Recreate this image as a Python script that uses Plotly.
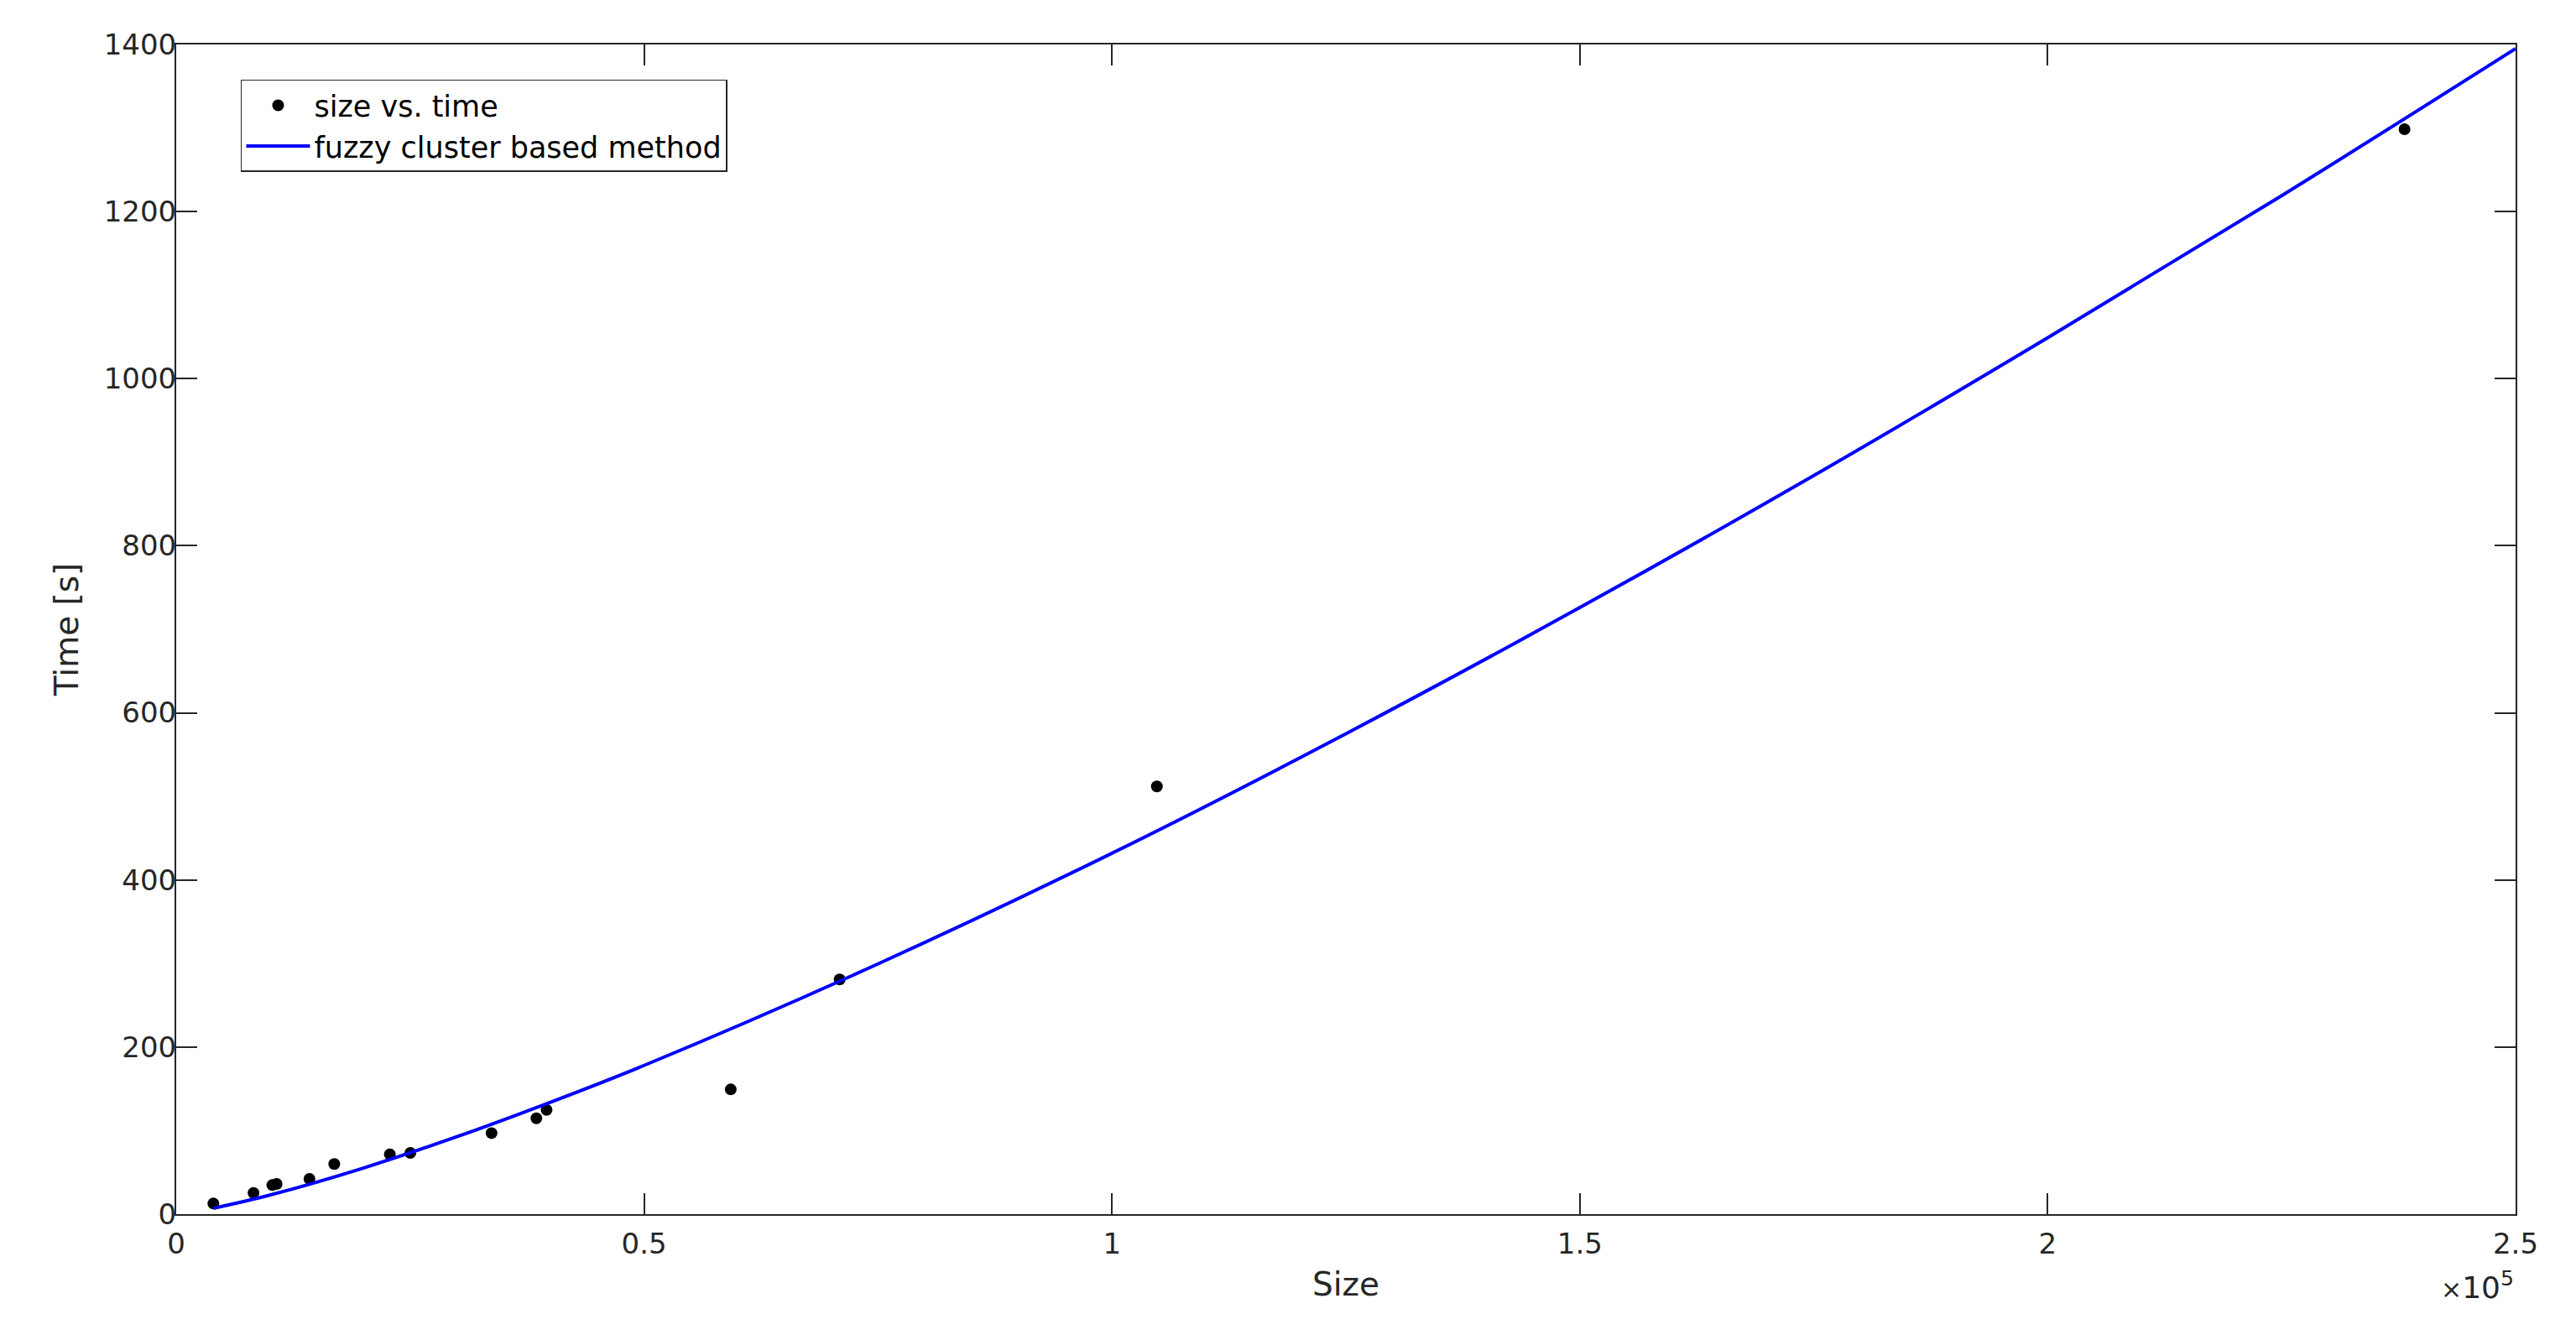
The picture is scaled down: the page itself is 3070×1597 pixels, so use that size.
import plotly.graph_objects as go

# Measured data (size vs. time)
size_vals = [3970, 8260, 10270, 10730, 14240, 16890, 22830, 25020, 33700, 38490,
             39580, 59260, 70900, 104800, 238130]
time_vals = [12.7, 25.4, 34.8, 36.2, 42.2, 60.0, 71.6, 73.3, 97.0, 114.8,
             124.8, 149.3, 281.0, 512.0, 1298.6]

# Fitted curve, values
fit_size = [3970, 10000, 20000, 30000, 40000, 50000, 75000, 100000, 125000,
            150000, 175000, 200000, 225000, 250000]
fit_time = [7.0, 22.8, 55.2, 92.7, 134.0, 178.0, 299.5, 432.0, 575.0,
            726.0, 884.0, 1049.0, 1219.0, 1395.0]

x_tickvals = [0, 50000, 100000, 150000, 200000, 250000]
x_ticktext = ["0", "0.5", "1", "1.5", "2", "2.5"]
y_tickvals = [0, 200, 400, 600, 800, 1000, 1200, 1400]

FONT = "DejaVu Sans"
TXT = "#262626"

fig = go.Figure()
fig.add_trace(go.Scatter(
    x=size_vals, y=time_vals, mode="markers", name="size vs. time",
    marker=dict(color="black", size=14),
))
fig.add_trace(go.Scatter(
    x=fit_size, y=fit_time, mode="lines", name="fuzzy cluster based method",
    line=dict(color="rgb(0,0,255)", width=4, shape="spline"),
))

axis_common = dict(
    showline=True, linecolor=TXT, linewidth=2, mirror="ticks",
    ticks="inside", ticklen=25, tickwidth=1.5, tickcolor=TXT,
    showgrid=False, zeroline=False,
    tickfont=dict(family=FONT, size=34, color=TXT),
)

fig.update_layout(
    width=3070, height=1597,
    paper_bgcolor="white", plot_bgcolor="white",
    margin=dict(l=202, r=80, t=45, b=158),
    font=dict(family=FONT, size=34, color=TXT),
    xaxis=dict(range=[0, 250000], tickvals=x_tickvals, ticktext=x_ticktext,
               ticklabelstandoff=4,
               title=dict(text="Size", font=dict(family=FONT, size=39, color=TXT), standoff=16),
               **axis_common),
    yaxis=dict(range=[0, 1400], tickvals=y_tickvals,
               ticklabelstandoff=-9,
               title=dict(text="Time [s]", font=dict(family=FONT, size=39, color=TXT), standoff=18),
               **axis_common),
    showlegend=True,
    legend=dict(x=0.0276, y=0.970, xanchor="left", yanchor="top",
                bgcolor="white", bordercolor=TXT, borderwidth=1.5,
                font=dict(family=FONT, size=35, color="black"),
                itemwidth=76, tracegroupgap=0),
    annotations=[dict(
        text="<span style='font-size:30px'>×</span>10<sup>5</sup>",
        xref="paper", yref="paper", x=1.0, y=0, xanchor="right", yanchor="top",
        yshift=-60, showarrow=False, font=dict(family=FONT, size=36, color=TXT),
    )],
)

fig.write_html("out.html")
